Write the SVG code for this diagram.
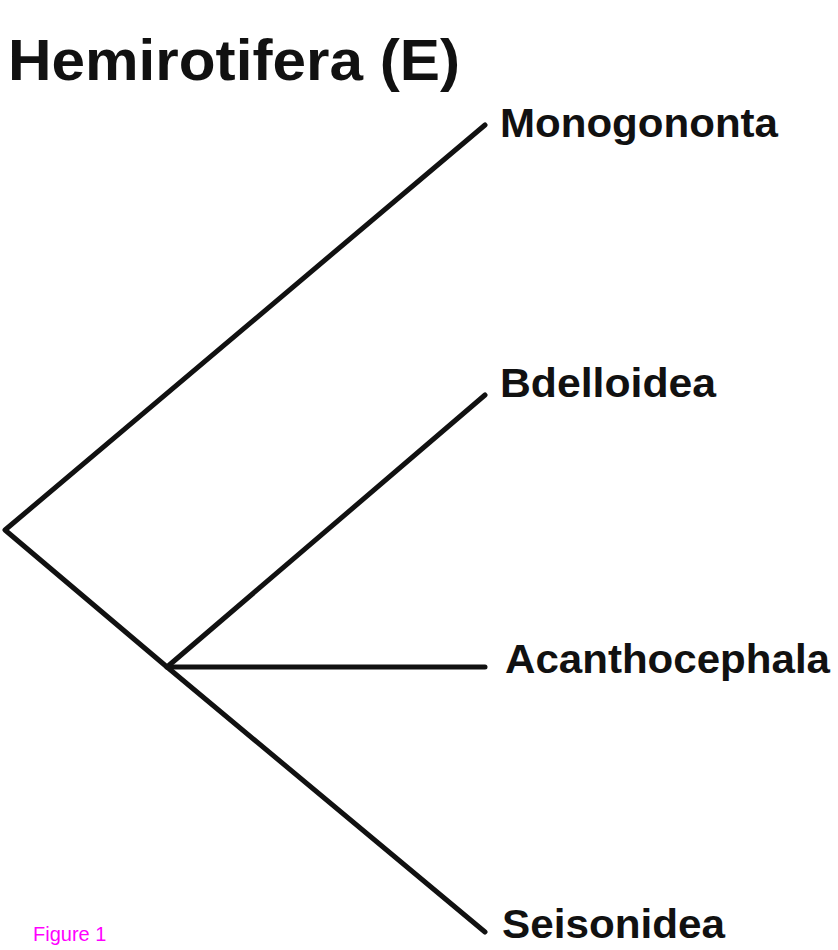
<svg xmlns="http://www.w3.org/2000/svg" width="838" height="950" viewBox="0 0 838 950">
<style>
.lbl{font-family:"Liberation Sans",Arial,sans-serif;font-weight:bold;font-size:40px;fill:#111}
.br{stroke:#111;stroke-width:5;fill:none;stroke-linecap:round;stroke-linejoin:round}
</style>
<rect width="838" height="950" fill="#fff"/>
<g id="title"><text x="8" y="80" font-family="'Liberation Sans',Arial,sans-serif" font-weight="bold" font-size="58" fill="#111" textLength="452" lengthAdjust="spacingAndGlyphs">Hemirotifera (E)</text></g>
<g id="connectors">
<polyline class="br" points="485,125 5,530 167,667 485,395"/>
<line class="br" x1="167" y1="667" x2="485" y2="667"/>
<line class="br" x1="167" y1="667" x2="485" y2="932"/>
</g>
<g id="n-monogononta"><text class="lbl" x="500" y="137" textLength="278" lengthAdjust="spacingAndGlyphs">Monogononta</text></g>
<g id="n-bdelloidea"><text class="lbl" x="500" y="397" textLength="216" lengthAdjust="spacingAndGlyphs">Bdelloidea</text></g>
<g id="n-acanthocephala"><text class="lbl" x="505" y="673" textLength="325" lengthAdjust="spacingAndGlyphs">Acanthocephala</text></g>
<g id="n-seisonidea"><text class="lbl" x="502" y="938" font-size="38" textLength="223" lengthAdjust="spacingAndGlyphs">Seisonidea</text></g>
<g id="caption"><text x="33" y="941" font-family="'Liberation Sans',Arial,sans-serif" font-size="20" fill="#ff00ff">Figure 1</text></g>
</svg>
